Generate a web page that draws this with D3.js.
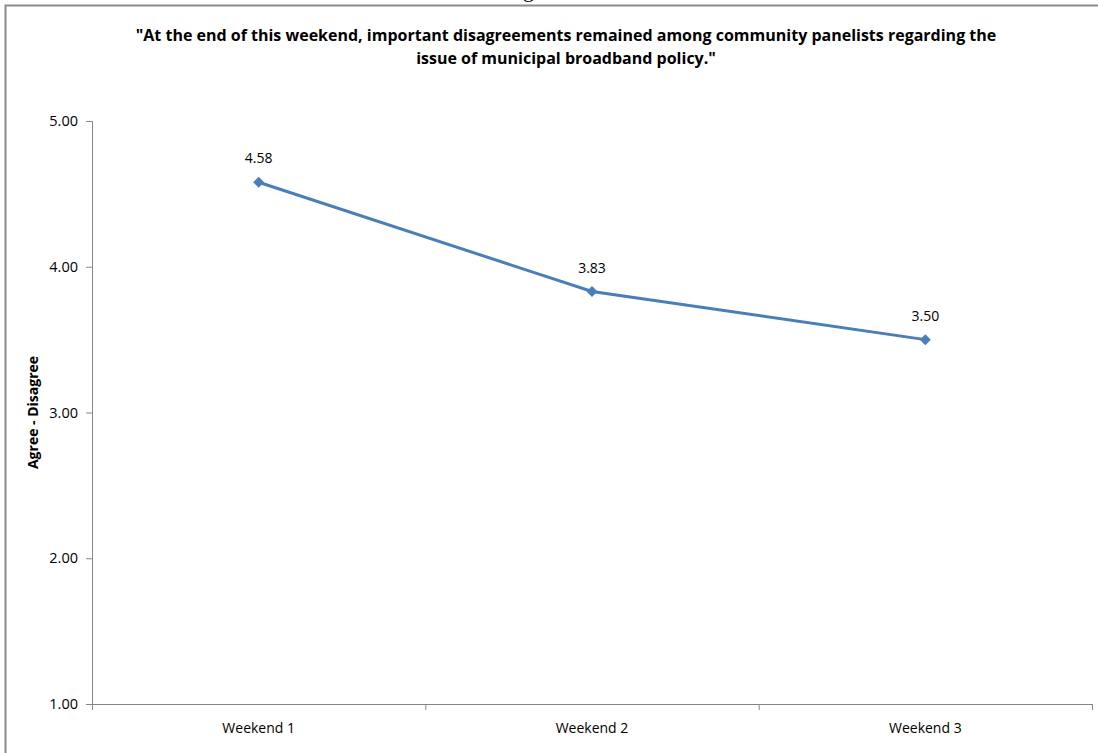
<!DOCTYPE html>
<html><head><meta charset="utf-8">
<script src="https://cdn.jsdelivr.net/npm/d3@7"></script>
<style>body{margin:0;background:#fff;} svg{display:block;}</style>
</head><body>
<svg id="c" width="1098" height="753"></svg>
<script>
const categories = ["Weekend 1", "Weekend 2", "Weekend 3"];
const values = [4.58, 3.83, 3.50];
const yTicks = [1, 2, 3, 4, 5];
const titleLines = ["\"At the end of this weekend, important disagreements remained among community panelists regarding the", "issue of municipal broadband  policy.\""];
const yAxisTitle = "Agree - Disagree";

const svg = d3.select("#c");
const font = "Open Sans, 'Noto Sans', sans-serif";
const m = {left: 92, right: 1092, top: 121, bottom: 704};

// frame
svg.append("path").attr("d", "M5.5,753 V5.5 H1098").attr("fill","none").attr("stroke","#8c8c8c").attr("stroke-width",2);
// clipped glyph above frame
svg.append("text").attr("x", 523).attr("y", -3).attr("font-family","'Liberation Serif', serif").attr("font-size", 22).text("g");

const x = d3.scaleBand().domain(categories).range([m.left, m.right]);
const y = d3.scaleLinear().domain([1, 5]).range([m.bottom, m.top]);

// title
svg.append("g").selectAll("text").data(titleLines).join("text")
  .attr("x", 566).attr("y", (d,i) => 41 + i*23)
  .attr("text-anchor","middle").attr("font-family", font).attr("font-weight","bold")
  .attr("font-size", 16).attr("fill","#000").text(d => d);

// y axis
const ya = svg.append("g").attr("transform", `translate(${m.left},0)`)
  .call(d3.axisLeft(y).tickValues(yTicks).tickFormat(d3.format(".2f")).tickSize(6).tickPadding(8));
ya.select(".domain").attr("stroke","#868686");
ya.selectAll(".tick line").attr("stroke","#868686");
ya.selectAll("text").attr("font-family", font).attr("font-size", 14.5).attr("fill","#000");

// x axis
const xa = svg.append("g").attr("transform", `translate(0,${m.bottom})`)
  .call(d3.axisBottom(x).tickSize(0).tickPadding(19));
xa.select(".domain").attr("stroke","#868686").attr("d", `M${m.left},0.5H${m.right}`);
xa.selectAll("text").attr("font-family", font).attr("font-size", 14).attr("fill","#000");
// boundary ticks between categories
const bounds = categories.map(c => x(c)).concat([m.right]);
svg.append("g").selectAll("line").data(bounds).join("line")
  .attr("x1", d => d+0.5).attr("x2", d => d+0.5).attr("y1", m.bottom).attr("y2", m.bottom+6)
  .attr("stroke","#868686");

// y axis title
svg.append("text").attr("transform", `translate(38,${(m.top+m.bottom)/2}) rotate(-90)`)
  .attr("text-anchor","middle").attr("font-family", font).attr("font-weight","bold")
  .attr("font-size", 14).text(yAxisTitle);

// line
const data = categories.map((c,i) => ({c, v: values[i]}));
const cx = d => x(d.c) + x.bandwidth()/2;
svg.append("path").datum(data)
  .attr("d", d3.line().x(cx).y(d => y(d.v)))
  .attr("fill","none").attr("stroke","#4a7ebb").attr("stroke-width",3);
svg.append("g").selectAll("path").data(data).join("path")
  .attr("transform", d => `translate(${cx(d)},${y(d.v)})`)
  .attr("d", "M0,-5.5L5.5,0L0,5.5L-5.5,0Z").attr("fill","#4a7ebb");
svg.append("g").selectAll("text").data(data).join("text")
  .attr("x", cx).attr("y", d => y(d.v) - 19).attr("text-anchor","middle")
  .attr("font-family", font).attr("font-size", 14).attr("fill","#000")
  .text(d => d3.format(".2f")(d.v));
</script>
</body></html>
